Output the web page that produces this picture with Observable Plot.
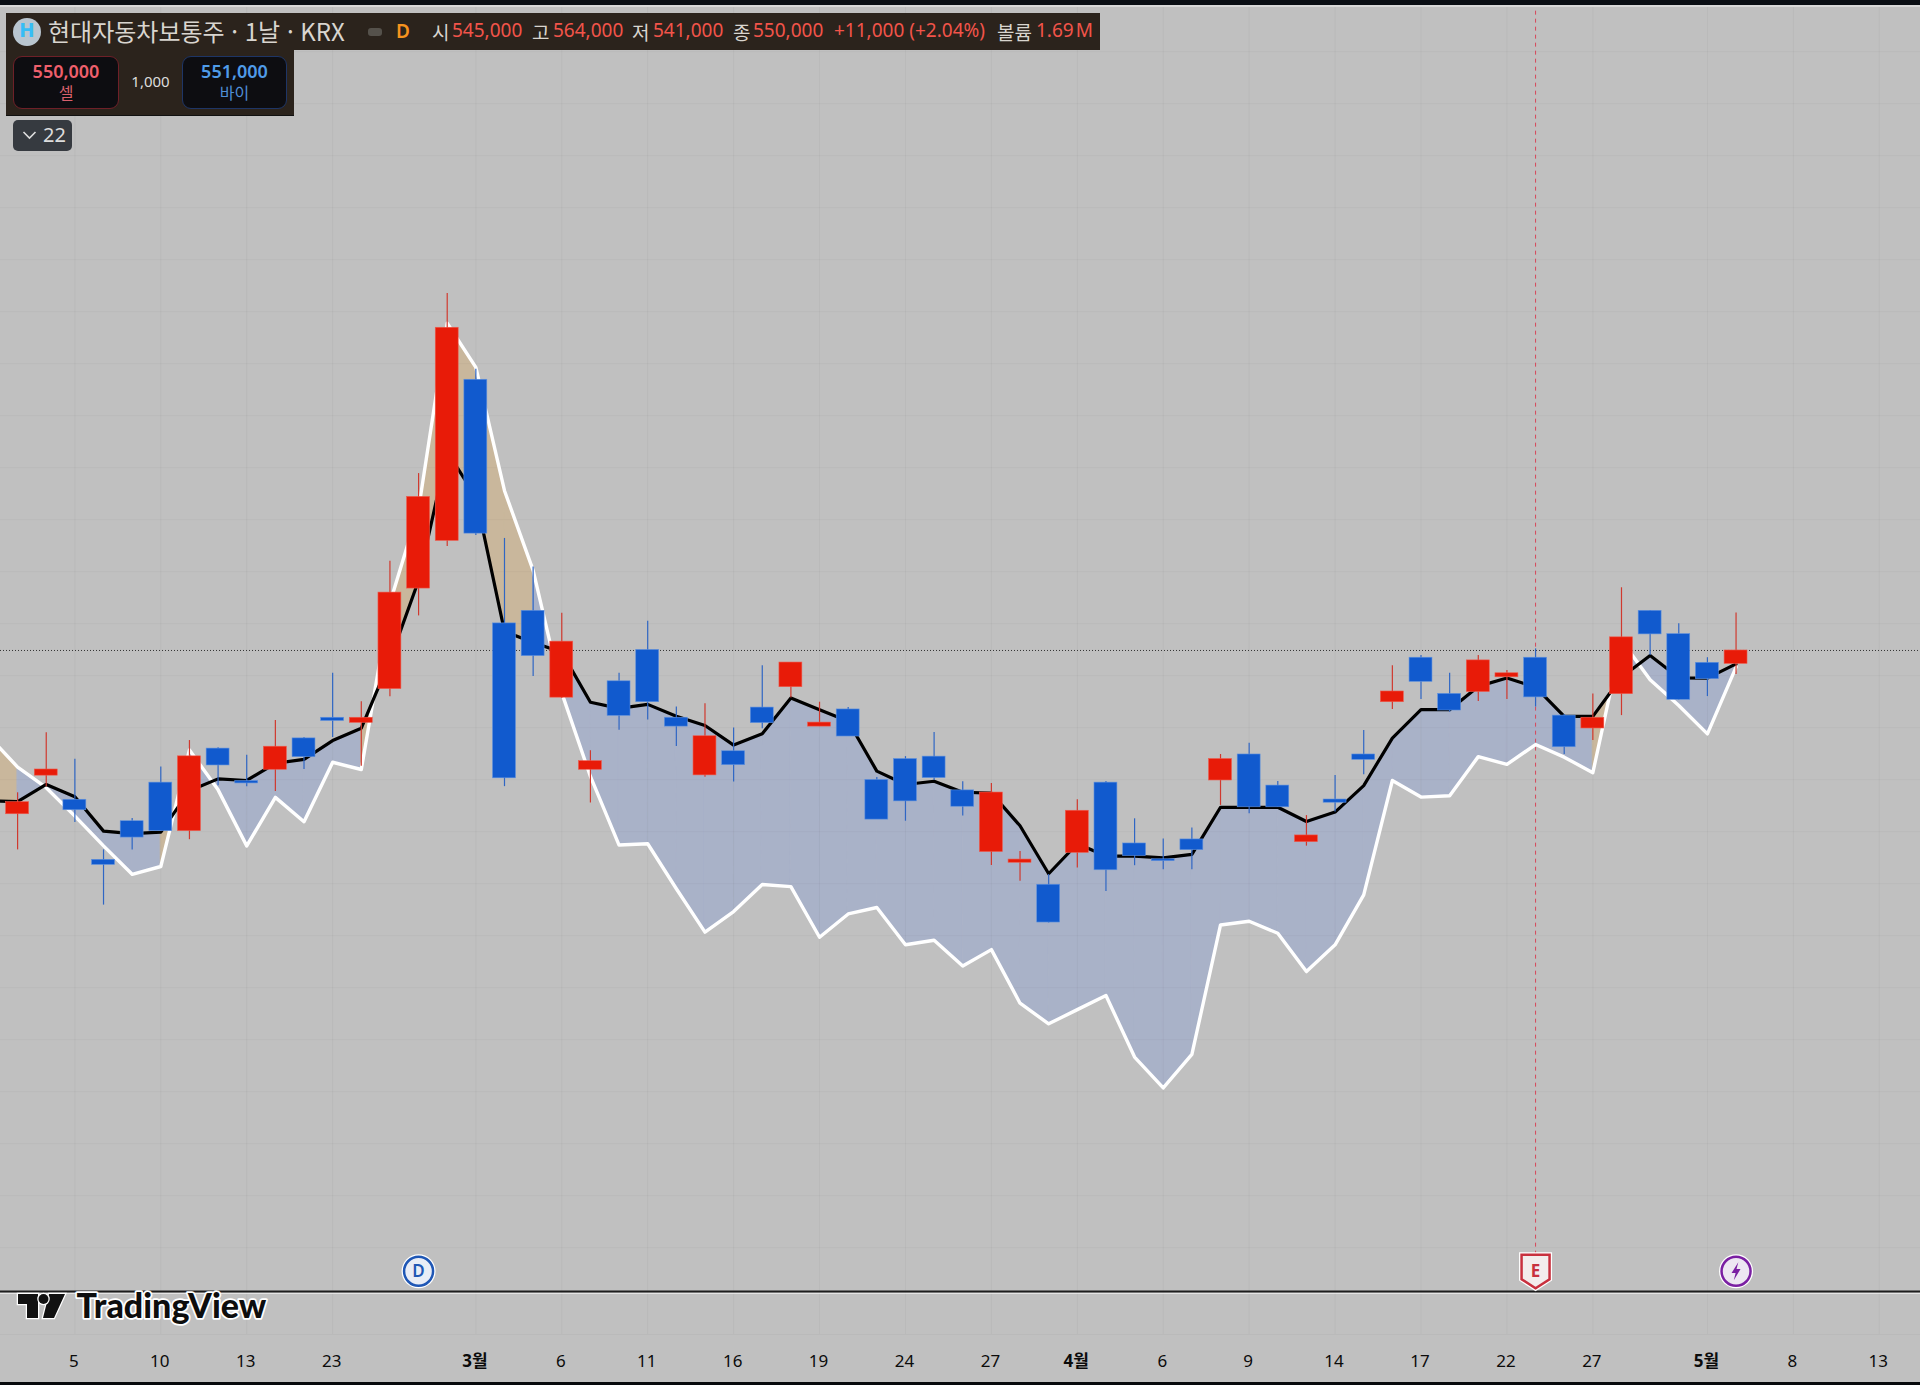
<!DOCTYPE html>
<html lang="ko">
<head>
<meta charset="utf-8">
<script src="https://cdn.jsdelivr.net/npm/d3@7"></script>
<script src="https://cdn.jsdelivr.net/npm/@observablehq/plot@0.6"></script>
<style>
html,body{margin:0;padding:0;background:#c0c0c0;width:1920px;height:1385px;overflow:hidden;font-family:"Noto Sans CJK KR","Noto Sans",sans-serif}
#wrap{position:relative;width:1920px;height:1385px}
#chart svg{display:block}
.a{position:absolute;white-space:nowrap;line-height:1}
.band{position:absolute;left:0;width:1920px;background:#0a0e14}
.btn{position:absolute;background:#0d0d11;border-radius:9px;box-sizing:border-box;border:1.5px solid}
.num{font-family:"Noto Sans",sans-serif}
</style>
</head>
<body>
<div id="wrap">
<div id="chart"></div>
<div class="band" style="top:0;height:5px"></div>
<div class="band" style="top:5px;height:2px;background:#d8d8d8"></div>
<div class="band" style="top:1382px;height:3px;background:#07090c"></div>

<div class="a" style="left:6px;top:13px;width:1094px;height:37px;background:#2b231c"></div>
<div class="a" style="left:6px;top:50px;width:288px;height:65px;background:#2b231c;border-bottom:1px solid #111"></div>
<div class="a" style="left:13px;top:18px;width:28px;height:28px;border-radius:50%;background:#b9c5cf"></div>
<div class="a num" style="left:13px;top:20px;width:28px;text-align:center;font-size:20px;font-weight:800;color:#36bdf6">H</div>
<div class="a" style="left:48px;top:19px;font-size:24px;color:#d9d5cf">현대자동차보통주 · 1날 · KRX</div>
<div class="a" style="left:368px;top:28px;width:14px;height:8px;border-radius:3px;background:#55514b"></div>
<div class="a num" style="left:396px;top:22px;font-size:19px;font-weight:600;color:#f7931e">D</div>
<div class="a" style="left:432px;top:22px;font-size:19px;color:#d9d5cf">시</div>
<div class="a num" style="left:452px;top:21px;font-size:19px;color:#f2544a">545,000</div>
<div class="a" style="left:532px;top:22px;font-size:19px;color:#d9d5cf">고</div>
<div class="a num" style="left:553px;top:21px;font-size:19px;color:#f2544a">564,000</div>
<div class="a" style="left:632px;top:22px;font-size:19px;color:#d9d5cf">저</div>
<div class="a num" style="left:653px;top:21px;font-size:19px;color:#f2544a">541,000</div>
<div class="a" style="left:733px;top:22px;font-size:19px;color:#d9d5cf">종</div>
<div class="a num" style="left:753px;top:21px;font-size:19px;color:#f2544a">550,000</div>
<div class="a num" style="left:834px;top:21px;font-size:19px;color:#f2544a">+11,000 (+2.04%)</div>
<div class="a" style="left:997px;top:22px;font-size:19px;color:#d9d5cf">볼륨</div>
<div class="a num" style="left:1036px;top:21px;font-size:19px;word-spacing:-3px;color:#f2544a">1.69 M</div>

<div class="btn" style="left:13px;top:56px;width:106px;height:53px;border-color:#6e2028"></div>
<div class="a num" style="left:13px;top:62px;width:106px;text-align:center;font-size:18px;font-weight:600;color:#ee5f6c">550,000</div>
<div class="a" style="left:13px;top:84px;width:106px;text-align:center;font-size:16px;color:#d9606c">셀</div>
<div class="a num" style="left:119px;top:74px;width:63px;text-align:center;font-size:15px;color:#ddd">1,000</div>
<div class="btn" style="left:182px;top:56px;width:105px;height:53px;border-color:#1e3566"></div>
<div class="a num" style="left:182px;top:62px;width:105px;text-align:center;font-size:18px;font-weight:600;color:#4f9be8">551,000</div>
<div class="a" style="left:182px;top:84px;width:105px;text-align:center;font-size:16px;color:#4f8fd8">바이</div>

<div class="a" style="left:13px;top:120px;width:59px;height:31px;border-radius:5px;background:#363a40"></div>
<svg class="a" style="left:22px;top:130px" width="16" height="10"><path d="M1.5 2 L7.5 8 L13.5 2" fill="none" stroke="#ddd" stroke-width="1.6"/></svg>
<div class="a num" style="left:43px;top:125px;font-size:20px;color:#ddd">22</div>

<svg class="a" style="left:15px;top:1291px" width="52" height="30" viewBox="0 0 52 30">
  <path d="M3 3 H23 V27 H12 V13 H3 Z M34 3 H50 L39 27 H28 Z" fill="#111" stroke="#fff" stroke-width="2.5" paint-order="stroke"/>
  <circle cx="28.5" cy="8" r="5" fill="#111" stroke="#fff" stroke-width="2.5" paint-order="stroke"/>
</svg>
</div>
<script>
// candle values, thousands of won, in order of the trading days shown
const openPrices  = [488.9,503.3,494.3,471.9,486.3,500.7,482.6,513.4,501.3,505.5,517.2,524.9,523,535.6,573.1,590.9,651,560.1,564.8,532.4,505.5,538.5,550.2,524.9,503.4,512.4,528.7,536.3,521.6,528,501.7,509.5,510.4,497.8,474.8,470.8,462.6,474.5,500.7,478,472.1,479.5,501.5,511.2,499.6,478.5,494.4,511.2,530.7,547.3,533.8,534.5,540,547.3,525.7,520.9,533.7,564.8,556.1,545.4,545];
const highPrices  = [496.9,519.3,509.4,475.6,487.3,506.5,516.4,513.7,510.9,523.9,517.5,541.5,530.9,583.3,616,683.2,654.9,591.8,581.1,563.9,512.6,541.5,560.9,528.9,530.1,521.1,544.3,545.5,530.7,528.7,502.6,510.4,519.4,501,500.4,475,466.4,494.3,501.1,487.2,479.7,483.8,511.2,515.4,501.1,488.4,503.4,520.1,544.3,548.1,541.5,548.1,542.5,550.6,526.1,533.8,573.4,564.9,560,547.3,564];
const lowPrices   = [475.6,499.2,485.8,455,475.6,482.5,479.4,499.5,499.2,497.4,505.6,517.5,506.8,532.7,562.9,588.8,592.9,499.2,540.3,532.1,493.1,520.2,524.1,514.2,502.7,500.9,520.8,532.3,521.6,517.9,486.9,486.3,501.5,488.2,469.8,463.9,448.3,468.8,460.1,469.7,468.2,468.2,492.2,489.1,491.5,477,489.7,503.6,528,531.7,527,531,531.7,528.9,511.2,516.4,525.7,548.1,531.4,532.8,541];
const closePrices = [493.4,505.6,490.4,470,480.2,482.6,510.5,507.1,500.4,514.1,510.2,523.7,524.9,571.6,607.3,670.4,593.6,502.3,547.9,553.3,508.7,525.6,530.7,521.6,518,507.2,522.9,545.5,523.1,517.9,486.9,493.7,502.4,491.7,497,472,448.5,490.2,468,473.3,471.4,475.5,509.5,491.5,491.5,481,493.2,509.2,534.7,538.3,527.6,546.3,541.5,532.5,513.9,524.9,554.9,556,531.6,539.3,550];
// two overlay lines; first entry is the day just off the left edge
const blackLine = [493.9,493.6,500,495.4,482.6,481.7,482.2,497.7,502.1,501.5,507.9,509.4,516.4,521,546.4,576.1,624.1,607.3,557.1,553,549.3,530.7,528.4,529.9,525.5,522,514.7,518.9,532.3,527.9,523.6,505,500,501.2,497.1,496.8,484.6,466.7,477.9,473.3,473.3,472.6,473.9,491.5,491.5,491.5,486.2,489.7,499.6,517.3,527.9,527.9,536.6,539.7,536.3,525.4,525.4,540,548.1,539.8,539.7,545];
const whiteLine = [517.9,506.5,498.8,488.2,477.1,466.5,469.4,512.9,498,477.1,495.2,486.1,508.3,505.6,567.7,602.8,672.1,655.6,609.6,579.9,534.2,503,477.4,477.9,461.1,444.9,452.6,462.7,461.9,443,451.7,454.1,440.2,441.9,432.3,438.4,418.4,410.7,416,421.3,398.3,386.8,399.3,447.6,449,444.5,430.2,440.2,458.8,501.5,495.3,495.8,510.4,507.5,514.9,510.2,504.4,553.7,539.1,529.5,518.9,543.8];
const dayTicks = [2,5,8,11,19,22,25,28,31,34,40,43,46,49,52,55,62,65];
const dayLabels = ["5","10","13","23","6","11","16","19","24","27","6","9","14","17","22","27","8","13"];
const monthTicks = [16,37,59];
const monthLabels = ["3월","4월","5월"];
const gridPrices = [773.4,754,734.6,715.2,695.8,676.4,657,637.6,618.2,598.8,579.4,560,540.6,521.2,501.8,482.4,463,443.6,424.2,404.8,385.4,366,346.6,327.2,294.8];
const lastPrice = 550;
const earningsDay = 53, dividendDay = 14, splitDay = 60;
const iconPrice = 318.4, logoPrice = 305, paneLine = 310.8, paneHighlight = 310.2;

const candles = closePrices.map((c,i)=>({i,o:openPrices[i],h:highPrices[i],l:lowPrices[i],c}));
const up = d=>d.c>=d.o;

// each stretch between two days takes its colour from the day at its right end
const fillRows=[];
for(let k=1;k<blackLine.length;k++){
  const fill = whiteLine[k]>blackLine[k] ? "#c9b79c" : "#a9b2c8";
  fillRows.push({x:k-2,b:blackLine[k-1],w:whiteLine[k-1],seg:k,fill});
  fillRows.push({x:k-1,b:blackLine[k],w:whiteLine[k],seg:k,fill});
}

function pin(ctx,size){
  const r=Math.sqrt(size/Math.PI), s=r/17;
  ctx.moveTo(-14*s,-16.5*s);ctx.lineTo(14*s,-16.5*s);ctx.lineTo(14*s,8*s);ctx.lineTo(0,17*s);ctx.lineTo(-14*s,8*s);ctx.closePath();
}
function bolt(ctx,size){
  const r=Math.sqrt(size/Math.PI), s=r/10;
  ctx.moveTo(2.5*s,-10*s);ctx.lineTo(-5*s,2*s);ctx.lineTo(-0.5*s,2*s);ctx.lineTo(-2.5*s,10*s);ctx.lineTo(5*s,-2.5*s);ctx.lineTo(0.5*s,-2.5*s);ctx.closePath();
}

const fmt=(ticks,labels)=>v=>labels[ticks.indexOf(v)];
const chart = Plot.plot({
  width:1920,height:1385,
  marginLeft:0,marginRight:0,marginTop:0,marginBottom:51,
  style:{background:"#c0c0c0",fontFamily:'"Noto Sans","Noto Sans CJK KR",sans-serif'},
  x:{type:"linear",domain:[-0.597,66.44]},
  y:{type:"linear",domain:[294.8,792.5],axis:null},
  color:{type:"identity"},
  marks:[
    Plot.areaY(fillRows,{x:"x",y1:"b",y2:"w",z:"seg",fill:"fill",stroke:"fill",strokeWidth:0.7,clip:true}),
    Plot.gridY(gridPrices,{stroke:"#000",strokeOpacity:0.032,strokeWidth:1}),
    Plot.gridX([...dayTicks,...monthTicks],{stroke:"#000",strokeOpacity:0.035,strokeWidth:1}),
    Plot.ruleY([lastPrice],{stroke:"#333",strokeWidth:1,strokeDasharray:"1,2"}),
    Plot.ruleX([earningsDay],{y1:iconPrice+6,y2:792.5,stroke:"#d6485a",strokeWidth:1,strokeDasharray:"4,4"}),
    Plot.ruleY([paneHighlight],{stroke:"#f2f2f2",strokeWidth:1}),
    Plot.ruleY([paneLine],{stroke:"#1c1c1c",strokeWidth:2}),
    Plot.line(whiteLine.map((v,k)=>({x:k-1,v})),{x:"x",y:"v",stroke:"#fff",strokeWidth:3.4,clip:true}),
    Plot.line(blackLine.map((v,k)=>({x:k-1,v})),{x:"x",y:"v",stroke:"#000",strokeWidth:3.2,clip:true}),
    Plot.ruleX(candles,{x:"i",y1:"l",y2:"h",stroke:d=>up(d)?"#d0392e":"#2f66c4",strokeWidth:1.2}),
    Plot.rect(candles,{x1:d=>d.i-0.4,x2:d=>d.i+0.4,y1:"o",y2:"c",fill:d=>up(d)?"#e81b08":"#115ace",stroke:d=>up(d)?"#ef5a4c":"#5f91de",strokeWidth:0.6}),
    Plot.axisX(dayTicks,{anchor:"bottom",tickSize:0,tickPadding:20,dx:-1,tickFormat:fmt(dayTicks,dayLabels),label:null,fontSize:17,fill:"#0b0b0b"}),
    Plot.axisX(monthTicks,{anchor:"bottom",tickSize:0,tickPadding:20,dx:-1,tickFormat:fmt(monthTicks,monthLabels),label:null,fontSize:17,fontWeight:700,fill:"#0b0b0b"}),
    Plot.dot([dividendDay],{x:d=>d,y:()=>iconPrice,r:17,fill:"#fff"}),
    Plot.dot([dividendDay],{x:d=>d,y:()=>iconPrice,r:14.5,fill:"#e9edf6",stroke:"#1f57b5",strokeWidth:2.5}),
    Plot.text(["D"],{x:()=>dividendDay,y:()=>iconPrice,text:d=>d,fill:"#1f57b5",fontSize:17,fontWeight:600}),
    Plot.dot([earningsDay],{x:d=>d,y:()=>iconPrice,r:17,symbol:{draw:pin},fill:"#f3ecec",stroke:"#fff",strokeWidth:5}),
    Plot.dot([earningsDay],{x:d=>d,y:()=>iconPrice,r:17,symbol:{draw:pin},fill:"#f3ecec",stroke:"#c8303e",strokeWidth:2.5}),
    Plot.text(["E"],{x:()=>earningsDay,y:()=>iconPrice,text:d=>d,fill:"#c8303e",fontSize:17,fontWeight:700}),
    Plot.dot([splitDay],{x:d=>d,y:()=>iconPrice,r:17,fill:"#fff"}),
    Plot.dot([splitDay],{x:d=>d,y:()=>iconPrice,r:14.5,fill:"#ede6f2",stroke:"#7a1fa2",strokeWidth:2.5}),
    Plot.dot([splitDay],{x:d=>d,y:()=>iconPrice,r:9,symbol:{draw:bolt},fill:"#7a1fa2"}),
    Plot.text(["TradingView"],{x:()=>2.06,y:()=>logoPrice,text:d=>d,textAnchor:"start",fill:"#0d0d0d",stroke:"#fff",strokeWidth:3.5,fontSize:34,fontWeight:900,fontFamily:"Lato"}),
  ]
});
document.getElementById("chart").append(chart);
</script>
</body>
</html>
